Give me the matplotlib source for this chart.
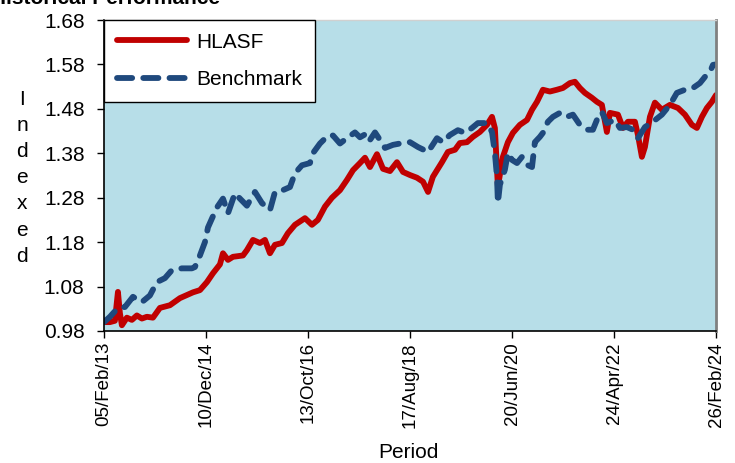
import matplotlib
matplotlib.use("Agg")
import matplotlib.pyplot as plt
import matplotlib.dates as mdates
import pandas as pd

plt.rcParams['font.family'] = ['Liberation Sans', 'DejaVu Sans']

# HLASF (fund)
fund_dates = ['2013-02-05', '2013-03-16', '2013-04-18', '2013-05-08', '2013-05-21', '2013-06-03',
              '2013-07-06', '2013-08-08', '2013-09-10', '2013-10-13', '2013-11-15', '2013-12-25',
              '2014-02-09', '2014-04-16', '2014-06-21', '2014-09-15', '2014-10-31', '2014-12-16',
              '2015-01-25', '2015-03-12', '2015-04-01', '2015-05-04', '2015-06-06', '2015-08-11',
              '2015-09-06', '2015-10-16', '2015-12-01', '2016-01-03', '2016-02-05', '2016-03-09',
              '2016-04-24', '2016-06-02', '2016-07-19', '2016-09-23', '2016-11-08', '2016-12-17',
              '2017-02-02', '2017-03-20', '2017-05-12', '2017-06-27', '2017-08-06', '2017-09-21',
              '2017-10-24', '2017-11-26', '2018-01-11', '2018-02-20', '2018-04-07', '2018-05-23',
              '2018-07-02', '2018-08-17', '2018-10-02', '2018-11-11', '2018-12-14', '2019-01-15',
              '2019-03-16', '2019-04-24', '2019-06-10', '2019-07-12', '2019-08-28', '2019-10-06',
              '2019-11-21', '2020-01-07', '2020-02-09', '2020-02-28', '2020-03-13', '2020-03-19',
              '2020-04-21', '2020-05-24', '2020-06-26', '2020-08-11', '2020-09-27', '2020-10-30',
              '2020-12-02', '2021-01-10', '2021-02-25', '2021-04-12', '2021-05-22', '2021-07-07',
              '2021-08-09', '2021-09-11', '2021-10-14', '2021-11-29', '2022-01-01', '2022-02-03',
              '2022-03-08', '2022-03-28', '2022-05-20', '2022-06-22', '2022-07-25', '2022-09-09',
              '2022-09-29', '2022-10-25', '2022-11-14', '2022-12-17', '2023-01-19', '2023-03-06',
              '2023-04-28', '2023-06-20', '2023-08-05', '2023-09-20', '2023-10-23', '2023-11-25',
              '2023-12-28', '2024-01-30', '2024-02-26']
fund_values = [1.000, 1.000, 1.003, 1.068, 1.020, 0.993,
               1.010, 1.005, 1.015, 1.008, 1.012, 1.010,
               1.032, 1.038, 1.054, 1.067, 1.072, 1.090,
               1.110, 1.130, 1.155, 1.140, 1.147, 1.150,
               1.162, 1.185, 1.178, 1.185, 1.155, 1.174,
               1.178, 1.200, 1.219, 1.234, 1.219, 1.230,
               1.260, 1.280, 1.297, 1.320, 1.342, 1.358,
               1.370, 1.349, 1.378, 1.345, 1.340, 1.360,
               1.338, 1.331, 1.325, 1.316, 1.293, 1.327,
               1.360, 1.383, 1.388, 1.403, 1.405, 1.417,
               1.428, 1.444, 1.462, 1.437, 1.343, 1.305,
               1.372, 1.405, 1.426, 1.444, 1.455, 1.478,
               1.496, 1.523, 1.519, 1.523, 1.527, 1.538,
               1.541, 1.527, 1.516, 1.505, 1.496, 1.489,
               1.428, 1.471, 1.467, 1.437, 1.451, 1.451,
               1.421, 1.372, 1.394, 1.462, 1.494, 1.478,
               1.489, 1.482, 1.467, 1.444, 1.437, 1.462,
               1.482, 1.496, 1.511]

# Benchmark
bench_dates = ['2013-02-05', '2013-03-16', '2013-05-08', '2013-06-23', '2013-08-15', '2013-10-13',
               '2013-12-05', '2014-01-20', '2014-03-14', '2014-04-29', '2014-07-04', '2014-09-08',
               '2014-09-28', '2014-10-31', '2014-12-03', '2014-12-23', '2015-01-18', '2015-02-20',
               '2015-04-01', '2015-05-04', '2015-06-19', '2015-07-22', '2015-09-06', '2015-10-29',
               '2015-12-14', '2016-02-05', '2016-03-09', '2016-04-30', '2016-06-16', '2016-07-19',
               '2016-09-03', '2016-10-26', '2016-11-14', '2016-12-31', '2017-02-22', '2017-03-27',
               '2017-05-12', '2017-07-04', '2017-08-19', '2017-09-21', '2017-11-06', '2017-11-26',
               '2017-12-29', '2018-01-31', '2018-03-05', '2018-04-27', '2018-06-12', '2018-08-17',
               '2018-10-09', '2018-12-14', '2019-02-11', '2019-03-22', '2019-05-07', '2019-06-29',
               '2019-08-14', '2019-09-30', '2019-11-08', '2020-01-07', '2020-02-09', '2020-02-28',
               '2020-03-13', '2020-03-19', '2020-04-01', '2020-05-04', '2020-05-24', '2020-06-20',
               '2020-07-23', '2020-08-25', '2020-09-27', '2020-10-30', '2020-11-18', '2020-12-21',
               '2021-01-10', '2021-02-12', '2021-03-17', '2021-05-02', '2021-06-17', '2021-07-27',
               '2021-09-11', '2021-11-03', '2021-12-06', '2022-01-01', '2022-02-03', '2022-03-08',
               '2022-04-30', '2022-06-02', '2022-07-18', '2022-08-27', '2022-09-29', '2022-11-14',
               '2023-01-06', '2023-03-06', '2023-04-28', '2023-06-13', '2023-08-05', '2023-09-27',
               '2023-11-12', '2023-12-15', '2024-01-17', '2024-02-06', '2024-02-26']
bench_values = [1.000, 1.012, 1.032, 1.034, 1.057, 1.045,
                1.060, 1.090, 1.099, 1.117, 1.121, 1.121,
                1.124, 1.150, 1.180, 1.213, 1.233, 1.258,
                1.278, 1.245, 1.290, 1.278, 1.262, 1.293,
                1.268, 1.252, 1.293, 1.297, 1.304, 1.335,
                1.353, 1.358, 1.380, 1.402, 1.420, 1.420,
                1.402, 1.416, 1.427, 1.416, 1.425, 1.410,
                1.427, 1.410, 1.392, 1.399, 1.402, 1.405,
                1.394, 1.383, 1.414, 1.405, 1.421, 1.432,
                1.426, 1.437, 1.448, 1.448, 1.428, 1.381,
                1.327, 1.268, 1.309, 1.343, 1.381, 1.365,
                1.358, 1.372, 1.354, 1.349, 1.405, 1.417,
                1.426, 1.451, 1.462, 1.471, 1.462, 1.467,
                1.444, 1.433, 1.433, 1.455, 1.473, 1.448,
                1.455, 1.437, 1.439, 1.433, 1.414, 1.439,
                1.451, 1.467, 1.489, 1.516, 1.523, 1.527,
                1.538, 1.552, 1.563, 1.579, 1.580]

tick_dates = ['2013-02-05', '2014-12-10', '2016-10-13', '2018-08-17',
              '2020-06-20', '2022-04-24', '2024-02-26']
y_ticks = [0.98, 1.08, 1.18, 1.28, 1.38, 1.48, 1.58, 1.68]

FS = 15

fig = plt.figure(figsize=(7.35, 4.63), dpi=100)
ax = fig.add_axes([104 / 735, 132 / 463, 612 / 735, 311 / 463])
ax.set_facecolor('#B7DEE8')

ax.plot(pd.to_datetime(fund_dates), fund_values, color='#C00000', lw=4.2,
        solid_capstyle='round', solid_joinstyle='round', label='HLASF')
ax.plot(pd.to_datetime(bench_dates), bench_values, color='#1F497D', lw=4.2,
        dashes=(2.6, 1.9), dash_capstyle='round', dash_joinstyle='round', label='Benchmark')

ax.set_xlim(pd.Timestamp(tick_dates[0]), pd.Timestamp(tick_dates[-1]))
ax.set_ylim(y_ticks[0], y_ticks[-1])
ax.set_yticks(y_ticks)
ax.set_yticklabels(['%.2f' % v for v in y_ticks])
ax.set_xticks(pd.to_datetime(tick_dates))
ax.xaxis.set_major_formatter(mdates.DateFormatter('%d/%b/%y'))
ax.tick_params(axis='x', rotation=90, labelsize=13.5, length=5, width=1, pad=3)
ax.tick_params(axis='y', labelsize=FS, length=5, width=1, pad=9)

for s in ['left', 'bottom']:
    ax.spines[s].set_color('black')
    ax.spines[s].set_linewidth(1.2)
ax.spines['right'].set_color('#808080')
ax.spines['right'].set_linewidth(2)
ax.spines['top'].set_color('#D0D0D0')
ax.spines['top'].set_linewidth(1)

leg = ax.legend(loc='upper left', borderaxespad=0, fontsize=FS, handlelength=3.4,
                labelspacing=0.9, handletextpad=0.45, borderpad=0.6, fancybox=False,
                framealpha=1, edgecolor='black')
leg.get_frame().set_linewidth(1)

fig.text(0.03, 0.616, 'I\nn\nd\ne\nx\ne\nd', ha='center', va='center',
         fontsize=FS, linespacing=1.48)
fig.text(0.556, 0.022, 'Period', ha='center', va='center', fontsize=FS)
fig.text(-0.012, 0.992, 'Historical Performance', ha='left', va='baseline',
         fontsize=FS, fontweight='bold')

fig.savefig('out.png', dpi=100)
